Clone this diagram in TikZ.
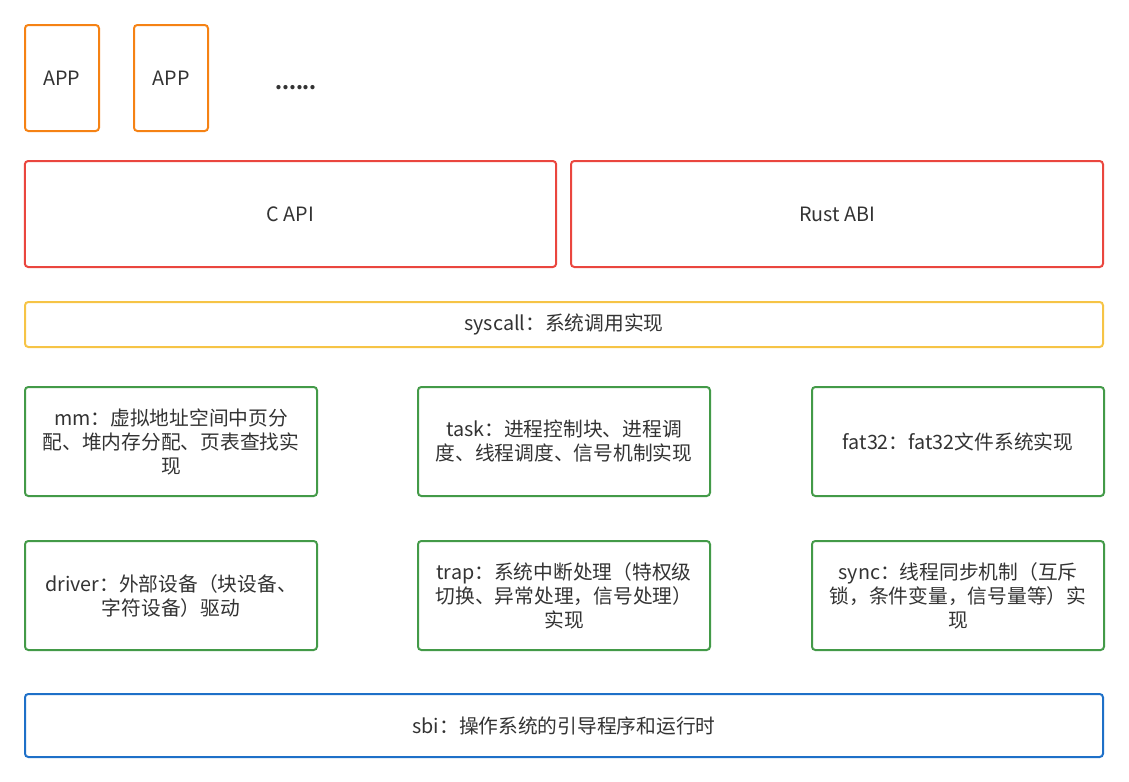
\documentclass[tikz,border=0pt]{standalone}
\usepackage{fontspec}
\setmainfont{Noto Sans CJK SC}
\definecolor{appc}{RGB}{245,130,20}
\definecolor{apic}{RGB}{234,70,62}
\definecolor{sysc}{RGB}{246,196,70}
\definecolor{modc}{RGB}{67,154,72}
\definecolor{sbic}{RGB}{30,112,200}
\definecolor{ink}{RGB}{51,51,51}

\begin{document}
\begin{tikzpicture}[x=0.75pt, y=-0.75pt,
    blk/.style={rectangle, rounded corners=2.5pt, line width=1.5pt, align=center,
              inner sep=0pt, text=ink, font=\fontsize{14.8}{18}\selectfont},
    app/.style={blk, draw=appc, minimum width=55.5pt, minimum height=79.5pt},
    api/.style={blk, draw=apic, minimum width=398.5pt, minimum height=79.5pt},
    sys/.style={blk, draw=sysc, minimum width=808.5pt, minimum height=33.75pt},
    mod/.style={blk, draw=modc, minimum width=219pt, minimum height=81.75pt},
    sbi/.style={blk, draw=sbic, minimum width=808.5pt, minimum height=47.25pt}]
  \useasboundingbox (0,0) rectangle (1129,782);

  % ---------- applications ------------------------------------------------
  \node[app] (app1) at (62,78) {APP};
  \node[app] (app2) at (171,78) {APP};
  \node[blk, font=\fontsize{14.8}{18}\bfseries] (more) at (296,88) {......};

  % ---------- interfaces --------------------------------------------------
  \node[api] (capi) at (290.5,214) {C API};
  \node[api, minimum width=399pt] (rabi) at (837,214) {Rust ABI};
  \node[sys] (syscall) at (564,324.5) {syscall：系统调用实现};

  % ---------- kernel modules ----------------------------------------------
  \node[mod] (mm)    at (171,441.5) {mm：虚拟地址空间中页分\\配、堆内存分配、页表查找实\\现};
  \node[mod] (task)  at (564,441.5) {task：进程控制块、进程调\\度、线程调度、信号机制实现};
  \node[mod] (fat)   at (958,441.5) {fat32：fat32文件系统实现};
  \node[mod] (drv)   at (171,595.5) {driver：外部设备（块设备、\\字符设备）驱动};
  \node[mod] (trap)  at (564,595.5) {trap：系统中断处理（特权级\\切换、异常处理，信号处理）\\实现};
  \node[mod] (sync)  at (958,595.5) {sync：线程同步机制（互斥\\锁，条件变量，信号量等）实\\现};

  % ---------- boot --------------------------------------------------------
  \node[sbi] (sbi) at (564,725.5) {sbi：操作系统的引导程序和运行时};
\end{tikzpicture}
\end{document}
